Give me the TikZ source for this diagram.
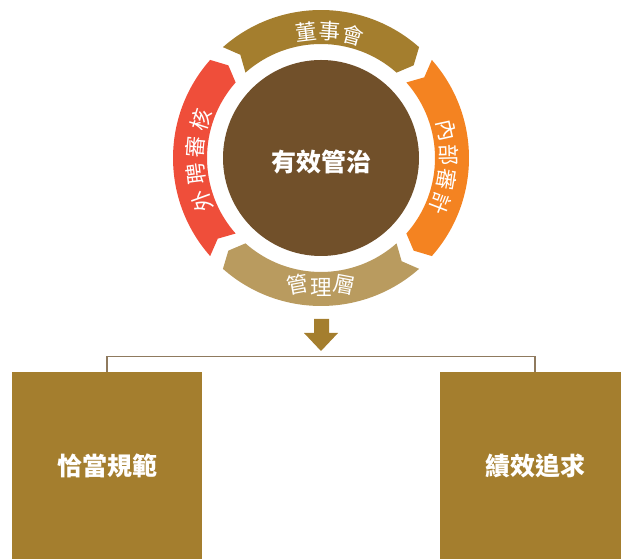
\documentclass[tikz,border=0pt]{standalone}
\usepackage{fontspec}
\newfontfamily\cjk{Noto Sans CJK TC}
\definecolor{cgold}{RGB}{164,126,46}
\definecolor{corange}{RGB}{244,131,33}
\definecolor{cred}{RGB}{239,78,58}
\definecolor{clight}{RGB}{185,155,95}
\definecolor{cbrown}{RGB}{113,80,42}
\definecolor{cline}{RGB}{143,122,94}
\tikzset{
  bandtxt/.style={text=white, font=\cjk\fontsize{21.5}{21.5}\selectfont, inner sep=0pt},
  boxnode/.style={fill=cgold, text=white, minimum width=190pt, minimum height=187pt, inner sep=0pt,
                  font=\cjk\bfseries\fontsize{25}{25}\selectfont},
  bracket/.style={draw=cline, line width=1.1pt}
}
\begin{document}
\begin{tikzpicture}[x=1pt,y=1pt]
\useasboundingbox (0,0) rectangle (621,559);
\begin{scope}[shift={(321,401)}]
  \foreach \c/\col in {90/cgold,0/corange,-90/clight,180/cred}{
    \pgfmathsetmacro\s{\c+41.5}
    \pgfmathsetmacro\e{\c-41.5}
    \pgfmathsetmacro\st{\c+38}
    \pgfmathsetmacro\et{\c-45}
    \fill[\col] (\s:148) arc[start angle=\s,end angle=\e,radius=148] -- (\et:131)
      -- (\e:114) arc[start angle=\e,end angle=\s,radius=114] -- (\st:131) -- cycle;
  }
  \node[circle, fill=cbrown, minimum size=196pt, inner sep=0pt] (core) at (0,0) {};
  \node[text=white, font=\cjk\bfseries\fontsize{25}{25}\selectfont, inner sep=0pt] (coretxt) at (0,-4) {有效管治};
  % top
  \node[bandtxt, rotate=6.7] (t1) at (96.7:127) {董};
  \node[bandtxt, rotate=-4] (t2) at (86:127) {事};
  \node[bandtxt, rotate=-14.7] (t3) at (75.3:127) {會};
  % bottom
  \node[bandtxt, rotate=10.7] (b1) at (259.3:129) {管};
  \node[bandtxt] (b2) at (270:129) {理};
  \node[bandtxt, rotate=-10.7] (b3) at (280.7:129) {層};
  % left
  \node[bandtxt, rotate=109.9] (l1) at (199.9:126) {外};
  \node[bandtxt, rotate=97.4] (l2) at (187.4:126) {聘};
  \node[bandtxt, rotate=84.9] (l3) at (174.9:126) {審};
  \node[bandtxt, rotate=72.4] (l4) at (162.4:126) {核};
  % right
  \node[bandtxt, rotate=-77.6] (r1) at (12.4:128) {內};
  \node[bandtxt, rotate=-88.7] (r2) at (1.3:128) {部};
  \node[bandtxt, rotate=-99.8] (r3) at (-9.8:128) {審};
  \node[bandtxt, rotate=-110.9] (r4) at (-20.9:128) {計};
\end{scope}
% down arrow
\fill[cgold] (314,240) -- (329,240) -- (329,226) -- (338,226) -- (321,208) -- (304,226) -- (314,226) -- cycle;
% boxes
\node[boxnode] (L) at (107,93.5) {恰當規範};
\node[boxnode] (R) at (535,93.5) {績效追求};
\draw[bracket] (L.north) -- ([yshift=15.5pt]L.north) -- ([yshift=15.5pt]R.north) -- (R.north);
\end{tikzpicture}
\end{document}
